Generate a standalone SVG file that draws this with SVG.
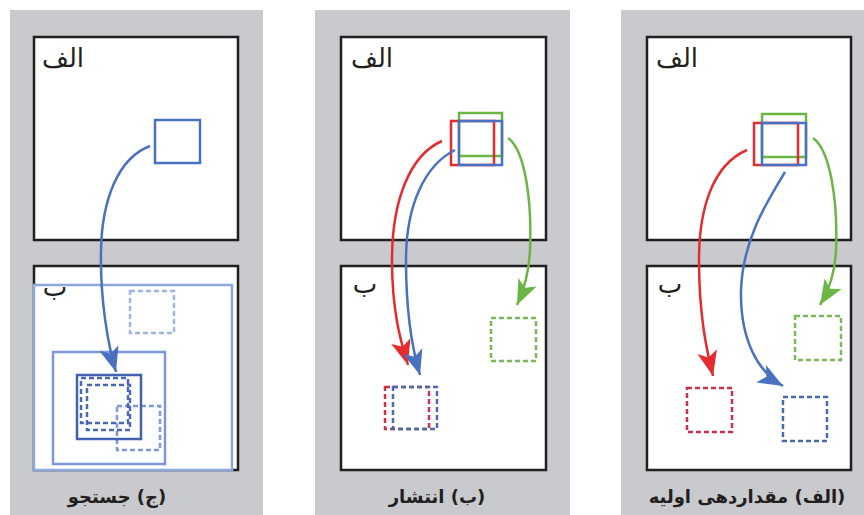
<svg xmlns="http://www.w3.org/2000/svg" width="864" height="515" viewBox="0 0 864 515">
<style>
.panel{fill:#c8cacd}
.box{fill:#fff;stroke:#231f20;stroke-width:2.5}
.lbl{font-family:"DejaVu Sans",sans-serif;font-size:26px;fill:#231f20;direction:rtl;text-anchor:middle}
.cap{font-family:"DejaVu Sans",sans-serif;font-size:18px;font-weight:bold;fill:#231f20;direction:rtl;text-anchor:middle}
.sq{fill:none;stroke-width:2.5}
.ds{fill:none;stroke-width:2.5;stroke-dasharray:5 3}
.r{stroke:#e42b2e}.b{stroke:#4a70c2}.g{stroke:#6bb544}
.dr{stroke:#c8324a}.db{stroke:#4a68b5}.dg{stroke:#7ab85a}
.cv{fill:none;stroke-width:2.5}
</style>
<defs>
<marker id="ar" markerUnits="userSpaceOnUse" viewBox="0 0 26 20" markerWidth="26" markerHeight="20" refX="25" refY="10" orient="auto"><path d="M0,0 L25,10 L0,20 L6,10 z" fill="#e42b2e"/></marker>
<marker id="ab" markerUnits="userSpaceOnUse" viewBox="0 0 26 20" markerWidth="26" markerHeight="20" refX="25" refY="10" orient="auto"><path d="M0,0 L25,10 L0,20 L6,10 z" fill="#4a70c2"/></marker>
<marker id="ag" markerUnits="userSpaceOnUse" viewBox="0 0 26 20" markerWidth="26" markerHeight="20" refX="25" refY="10" orient="auto"><path d="M0,0 L25,10 L0,20 L6,10 z" fill="#6bb544"/></marker>
</defs>
<rect width="864" height="515" fill="#fff"/>
<g id="panel-search">
<rect class="panel" x="10" y="10" width="253" height="505"/>
<rect class="box" x="34" y="37" width="204" height="203"/>
<text class="lbl" x="63" y="67">الف</text>
<rect class="sq b" x="155" y="120" width="45" height="43"/>
<rect class="box" x="34" y="266" width="204" height="204"/>
<rect x="34" y="285" width="198" height="185" fill="#fff" stroke="#8ea8dd" stroke-width="2.5"/>
<text class="lbl" x="55" y="296">ب</text>
<rect class="ds" x="130" y="291" width="44" height="42" stroke="#9fb5e0"/>
<rect class="sq" x="53" y="352" width="112" height="112" stroke="#7b97d4"/>
<rect class="ds" x="117" y="406" width="43" height="44" stroke="#7b97d4"/>
<rect class="sq" x="77" y="375" width="64" height="64" stroke="#4160b0" stroke-width="3"/>
<rect class="ds" x="81" y="378" width="47" height="45" stroke="#4a68b5"/>
<rect class="ds" x="87" y="385" width="43" height="45" stroke="#4a68b5"/>
<text class="cap" x="117" y="503">(ج) جستجو</text>
</g>
<g id="panel-propagation">
<rect class="panel" x="315" y="10" width="255" height="505"/>
<rect class="box" x="341" y="37" width="205" height="203"/>
<text class="lbl" x="372" y="67">الف</text>
<rect class="sq g" x="459" y="113" width="43" height="43"/>
<rect class="sq r" x="451" y="121" width="43" height="44"/>
<rect class="sq b" x="459" y="121" width="43" height="44"/>
<rect class="box" x="341" y="266" width="205" height="204"/>
<text class="lbl" x="365" y="293">ب</text>
<rect class="ds dg" x="491" y="318" width="45" height="43"/>
<rect class="ds dr" x="385" y="387" width="44" height="42"/>
<rect class="ds db" x="393" y="387" width="44" height="42"/>
<text class="cap" x="437" y="503">(ب) انتشار</text>
</g>
<g id="panel-init">
<rect class="panel" x="621" y="10" width="243" height="505"/>
<rect class="box" x="647" y="37" width="204" height="203"/>
<text class="lbl" x="677" y="67">الف</text>
<rect class="sq g" x="762" y="114" width="44" height="43"/>
<rect class="sq r" x="754" y="123" width="44" height="42"/>
<rect class="sq b" x="762" y="123" width="44" height="42"/>
<rect class="box" x="647" y="266" width="204" height="204"/>
<text class="lbl" x="670" y="293">ب</text>
<rect class="ds dg" x="795" y="316" width="46" height="44"/>
<rect class="ds dr" x="687" y="388" width="45" height="44"/>
<rect class="ds db" x="783" y="397" width="44" height="44"/>
<text class="cap" x="747" y="503">(الف) مقداردهی اولیه</text>
</g>
<g id="connectors">
<path class="cv b" d="M150,146 C118,158 102,200 101,250 C100,300 108,345 116,372" marker-end="url(#ab)"/>
<path class="cv r" d="M442,141 C410,155 392,200 392,260 C392,315 402,345 408,365" marker-end="url(#ar)"/>
<path class="cv b" d="M455,150 C425,165 406,205 406,260 C406,320 414,355 420,375" marker-end="url(#ab)"/>
<path class="cv g" d="M508,138 C525,150 532,200 530,250 C529,275 523,292 517,305" marker-end="url(#ag)"/>
<path class="cv r" d="M747,150 C712,165 699,210 699,260 C699,320 708,355 713,376" marker-end="url(#ar)"/>
<path class="cv b" d="M785,172 C765,205 743,240 741,290 C740,340 758,372 783,386" marker-end="url(#ab)"/>
<path class="cv g" d="M813,138 C830,150 838,200 836,250 C835,275 828,292 820,305" marker-end="url(#ag)"/>
</g>
</svg>
